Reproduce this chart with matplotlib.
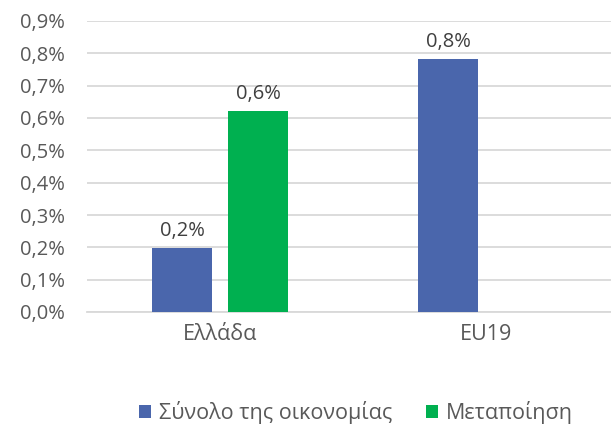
import matplotlib
matplotlib.use("Agg")
import matplotlib.pyplot as plt
import numpy as np

categories = ["Ελλάδα", "EU19"]
series_names = ["Σύνολο της οικονομίας", "Μεταποίηση"]
total_economy = [0.198, 0.783]
manufacturing = [0.622, np.nan]
yticks = [0.0, 0.1, 0.2, 0.3, 0.4, 0.5, 0.6, 0.7, 0.8, 0.9]
colors = ["#4A66AC", "#00B050"]

plt.rcParams['font.family'] = ['Open Sans', 'DejaVu Sans']
FS = 14.5
FS2 = 15.5

fig = plt.figure(figsize=(6.11, 4.29), dpi=100)
ax = fig.add_axes([87/611, (429-312)/429, (611-87)/611, 291/429])

x = np.arange(len(categories))
w = 0.2256
off = 0.143
for vals, dx, c, name in [(total_economy, -off, colors[0], series_names[0]),
                          (manufacturing, off, colors[1], series_names[1])]:
    bars = ax.bar(x + dx, vals, width=w, color=c, label=name, zorder=3)
    for xi, v in zip(x + dx, vals):
        if not np.isnan(v):
            ax.annotate(f"{v:.1f}%".replace(".", ","), (xi, v), xytext=(0, 5),
                        textcoords="offset points", ha="center", va="bottom",
                        fontsize=FS, color="#404040")

ax.set_xlim(-0.5, 1.47)
ax.set_ylim(0, 0.9)
ax.set_yticks(yticks)
ax.set_yticklabels([f"{t:.1f}%".replace(".", ",") for t in yticks])
ax.set_xticks(x)
ax.set_xticklabels(categories)
ax.tick_params(axis="both", length=0, labelsize=FS, colors="#595959")
ax.tick_params(axis="x", labelsize=FS2)
ax.tick_params(axis="y", pad=16)
ax.tick_params(axis="x", pad=9)
ax.yaxis.grid(True, color="#D9D9D9", linewidth=1.3, zorder=0)
for s in ["top", "right", "left"]:
    ax.spines[s].set_visible(False)
ax.spines["bottom"].set_color("#D9D9D9")
ax.spines["bottom"].set_linewidth(1.3)

leg = fig.legend(loc="center", bbox_to_anchor=(356/611, 1 - 413/429), ncol=2,
                 frameon=False, fontsize=FS2, handlelength=0.55, handleheight=0.55,
                 handletextpad=0.35, columnspacing=1.6)
for t in leg.get_texts():
    t.set_color("#595959")

fig.savefig("out.png", dpi=100)
